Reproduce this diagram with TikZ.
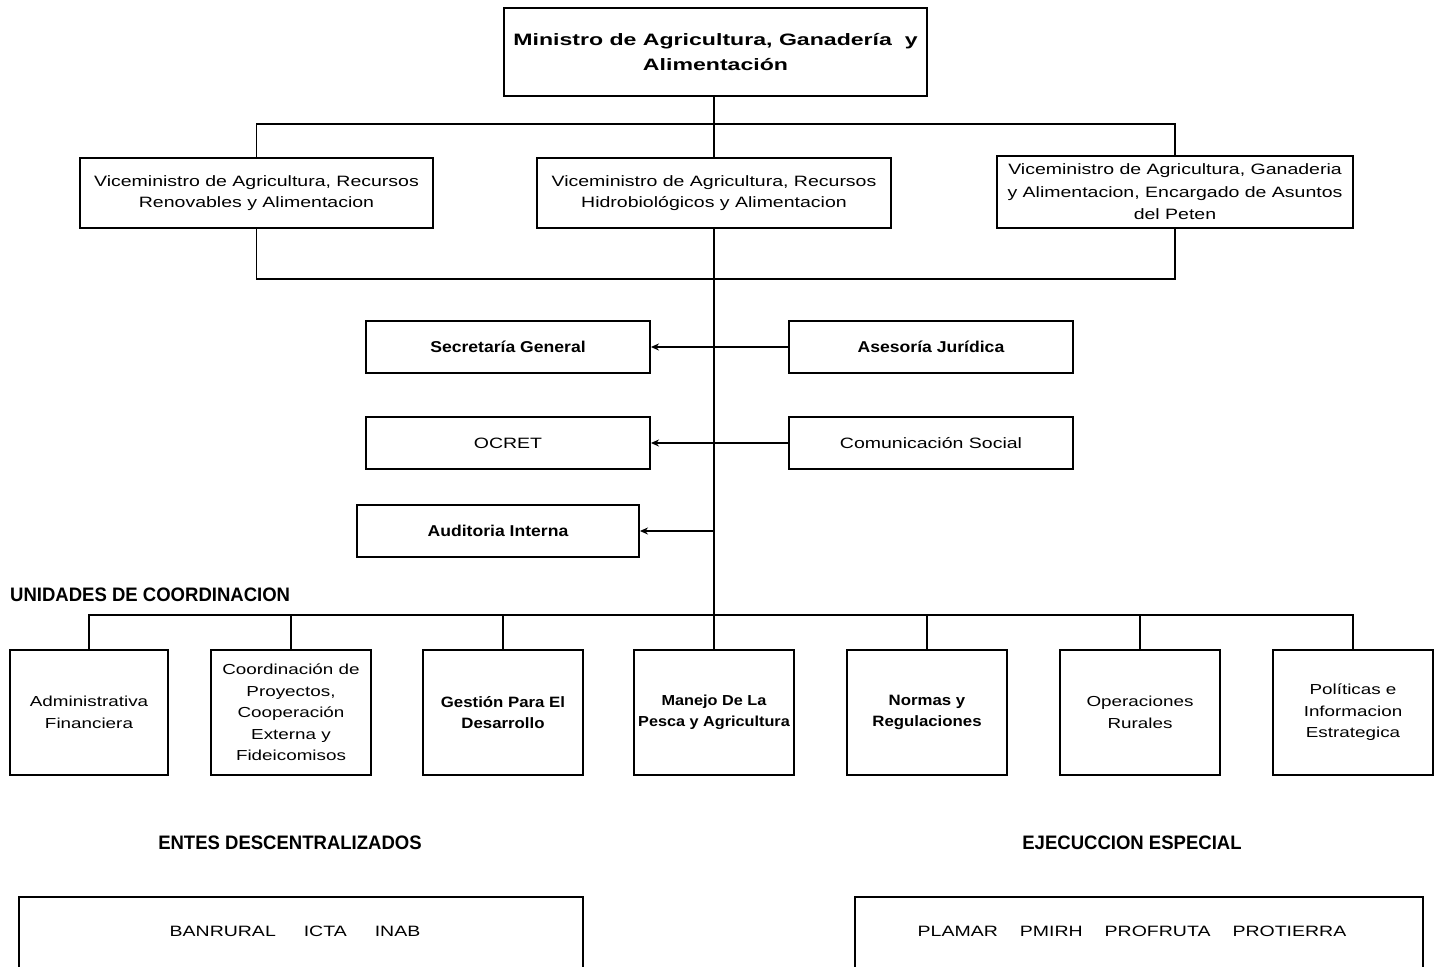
\documentclass[tikz,border=0pt]{standalone}
\usepackage{fontspec}
\setmainfont{Liberation Sans}
\newfontfamily\wreg[FakeStretch=1.3]{Liberation Sans}
\newfontfamily\wbold[FakeStretch=1.4]{Liberation Sans}
\newfontfamily\mbold[FakeStretch=1.12]{Liberation Sans}
\newfontfamily\cbold[FakeStretch=0.95]{Liberation Sans}
\usetikzlibrary{arrows.meta}
\tikzset{
  box/.style={draw=black, line width=1.9pt, fill=white, inner sep=0pt, align=center},
  vicebox/.style={box, font=\wreg\fontsize{15}{21.5}\selectfont},
  staffbox/.style={box, minimum width=284pt, minimum height=52pt, font=\mbold\bfseries\fontsize{15.7}{20}\selectfont},
  unitbox/.style={box, minimum width=159pt, minimum height=125pt, font=\wreg\fontsize{14.5}{21.5}\selectfont},
  semibox/.style={unitbox, font=\mbold\bfseries\fontsize{15}{21.5}\selectfont},
  head/.style={inner sep=0pt, font=\cbold\bfseries\fontsize{19.5}{22}\selectfont},
  plain/.style={inner sep=0pt, font=\wreg\fontsize{15}{20}\selectfont},
  conn/.style={line width=1.9pt, draw=black},
  arr/.style={conn, -{Stealth[length=8pt,width=7pt]}}
}
\begin{document}
\begin{tikzpicture}[x=1pt,y=-1pt]
\useasboundingbox (0,0) rectangle (1434,966);
\fill[white] (0,0) rectangle (1434,966);
\clip (0,0) rectangle (1434,966);

% Minister
\node[box, minimum width=423pt, minimum height=88pt, font=\wbold\bfseries\fontsize{16.5}{25}\selectfont] (top) at (715.5,52) {Ministro de Agricultura, Ganadería\ \ y\\Alimentación};

% Viceministers
\node[vicebox, minimum width=353pt, minimum height=70pt] (vl) at (256.5,193) {Viceministro de Agricultura, Recursos\\Renovables y Alimentacion};
\node[vicebox, minimum width=354pt, minimum height=70pt] (vm) at (714,193) {Viceministro de Agricultura, Recursos\\Hidrobiológicos y Alimentacion};
\node[vicebox, minimum width=356pt, minimum height=72pt, font=\wreg\fontsize{15}{22.5}\selectfont] (vr) at (1175,192) {Viceministro de Agricultura, Ganaderia\\y Alimentacion, Encargado de Asuntos\\del Peten};

\coordinate (b1) at (714,124);
\coordinate (b2) at (714,279);
\draw[conn] (vm.north |- top.south) -- (vm.north);
\draw[conn] (vl.north) |- (b1) -| (vr.north);
\draw[conn] (vl.south) |- (b2) -| (vr.south);

% Staff
\node[staffbox] (sg) at (508,347) {Secretaría General};
\node[staffbox] (aj) at (931,347) {Asesoría Jurídica};
\node[staffbox, font=\wreg\fontsize{15}{20}\selectfont] (oc) at (508,443) {OCRET};
\node[staffbox, font=\wreg\fontsize{15}{20}\selectfont] (cs) at (931,443) {Comunicación Social};
\node[staffbox, minimum width=282pt] (ai) at (498,531) {Auditoria Interna};

\draw[arr] (aj.west) -- (sg.east);
\draw[arr] (cs.west) -- (oc.east);
\coordinate (t3) at (714,531);
\draw[arr] (t3) -- (ai.east);

% Units
\node[head, anchor=west] (uc) at (10,595) {UNIDADES DE COORDINACION};
\node[unitbox, minimum width=158pt] (adm) at (89,712.5) {Administrativa\\Financiera};
\node[unitbox, minimum width=160pt] (coo) at (291,712.5) {Coordinación de\\Proyectos,\\Cooperación\\Externa y\\Fideicomisos};
\node[semibox, minimum width=160pt] (ges) at (503,712.5) {Gestión Para El\\Desarrollo};
\node[unitbox, minimum width=160pt, font=\mbold\bfseries\fontsize{14.5}{21.5}\selectfont] (man) at (714,712.5) {Manejo De La\\Pesca y Agricultura};
\node[semibox, minimum width=160pt] (nor) at (927,712.5) {Normas y\\Regulaciones};
\node[unitbox, minimum width=160pt] (ope) at (1140,712.5) {Operaciones\\Rurales};
\node[unitbox, minimum width=160pt] (pol) at (1353,712.5) {Políticas e\\Informacion\\Estrategica};

\coordinate (b3) at (714,615);
\draw[conn] (vm.south) -- (man.north);
\draw[conn] (adm.north) |- (b3) -| (pol.north);
\draw[conn] (coo.north) -- (coo.north |- b3);
\draw[conn] (ges.north) -- (ges.north |- b3);
\draw[conn] (nor.north) -- (nor.north |- b3);
\draw[conn] (ope.north) -- (ope.north |- b3);

% Bottom groups
\node[head] (edh) at (290,843) {ENTES DESCENTRALIZADOS};
\node[head] (eeh) at (1132,843) {EJECUCCION ESPECIAL};
\node[box, minimum width=564pt, minimum height=90pt] (ent) at (301,942) {};
\node[box, minimum width=568pt, minimum height=90pt] (eje) at (1139,942) {};
\node[plain] (entt) at (295,931) {BANRURAL\hspace{28pt}ICTA\hspace{28pt}INAB};
\node[plain] (ejet) at (1132,931) {PLAMAR\hspace{22pt}PMIRH\hspace{22pt}PROFRUTA\hspace{22pt}PROTIERRA};
\end{tikzpicture}
\end{document}
